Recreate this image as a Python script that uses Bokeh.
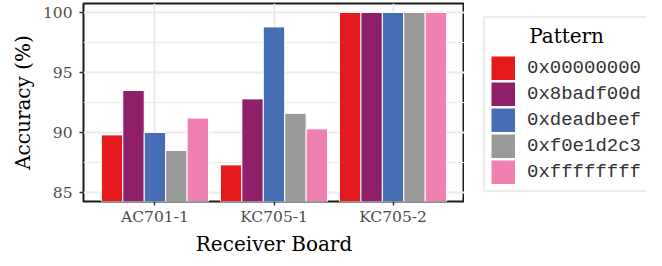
from bokeh.plotting import figure
from bokeh.layouts import row
from bokeh.models import (Legend, LegendItem, FixedTicker, Range1d, ColumnDataSource)
from bokeh.embed import file_html
from bokeh.resources import INLINE

boards = ["AC701-1", "KC705-1", "KC705-2"]
patterns = ["0x00000000", "0x8badf00d", "0xdeadbeef", "0xf0e1d2c3", "0xffffffff"]
acc_00000000 = [89.8, 87.3, 100.0]
acc_8badf00d = [93.5, 92.8, 100.0]
acc_deadbeef = [90.0, 98.8, 100.0]
acc_f0e1d2c3 = [88.5, 91.6, 100.0]
acc_ffffffff = [91.2, 90.3, 100.0]
series = [acc_00000000, acc_8badf00d, acc_deadbeef, acc_f0e1d2c3, acc_ffffffff]
colors = ["#E41A1C", "#8E1F68", "#466EB4", "#999999", "#F07FB4"]
y_ticks = [85, 90, 95, 100]

SERIF = "DejaVu Serif"
FH = 198      # frame height
TOP = 3
BOT = 49

p = figure(frame_width=381, frame_height=FH, output_backend="svg", toolbar_location=None,
           x_range=Range1d(0.4, len(boards) + 0.6), y_range=Range1d(84.25, 100.75),
           min_border_left=83, min_border_right=0, min_border_top=TOP, min_border_bottom=BOT)
p.background_fill_color = "white"
p.border_fill_color = "white"
p.outline_line_color = "#1a1a1a"
p.outline_line_width = 2

n = len(patterns)
bw = 0.9 / n
sources = []
for j, (vals, col) in enumerate(zip(series, colors)):
    xs = [i + 1 + (j - (n - 1) / 2) * bw for i in range(len(boards))]
    src = ColumnDataSource(dict(x=xs, top=vals))
    sources.append(src)
    p.vbar(x="x", top="top", bottom=0, width=bw, source=src,
           fill_color=col, line_color="white", line_width=1)

# axes
p.xaxis.ticker = FixedTicker(ticks=list(range(1, len(boards) + 1)))
p.xaxis.major_label_overrides = {i + 1: b for i, b in enumerate(boards)}
minor = [(a + b) / 2 for a, b in zip(y_ticks[:-1], y_ticks[1:])]
p.yaxis.ticker = FixedTicker(ticks=y_ticks, minor_ticks=minor)

for ax in (p.xaxis[0], p.yaxis[0]):
    ax.axis_line_color = None
    ax.major_tick_line_color = "#333333"
    ax.major_tick_line_width = 1.5
    ax.major_tick_out = 4
    ax.major_tick_in = 0
    ax.minor_tick_out = 0
    ax.minor_tick_in = 0
    ax.major_label_text_font = SERIF
    ax.major_label_text_font_size = "15.5px"
    ax.major_label_text_color = "#4d4d4d"
    ax.axis_label_text_font = SERIF
    ax.axis_label_text_font_size = "20px"
    ax.axis_label_text_font_style = "normal"
    ax.axis_label_text_color = "black"

p.xaxis.axis_label = "Receiver Board"
p.yaxis.axis_label = "Accuracy (%)"
p.xaxis.major_label_standoff = 2
p.xaxis.axis_label_standoff = 3
p.yaxis.major_label_standoff = 7
p.yaxis.axis_label_standoff = 5

p.xgrid.grid_line_color = "#ebebeb"
p.xgrid.grid_line_width = 2
p.ygrid.grid_line_color = "#ebebeb"
p.ygrid.grid_line_width = 2
p.ygrid.minor_grid_line_color = "#ebebeb"
p.ygrid.minor_grid_line_width = 1

# legend panel (separate figure to the right of the chart); its ranges keep the
# key renderers themselves out of view, only their legend swatches show
lf = figure(frame_width=182, frame_height=FH, output_backend="svg", toolbar_location=None,
            x_axis_type=None, y_axis_type=None,
            x_range=Range1d(-20, -19), y_range=Range1d(-20, -19),
            min_border_left=0, min_border_right=0, min_border_top=TOP, min_border_bottom=BOT)
lf.outline_line_color = None
lf.grid.visible = False
lf.background_fill_color = "white"
lf.border_fill_color = "white"
leg_renderers = []
for src, col in zip(sources, colors):
    r = lf.line(x="x", y="top", source=src, line_color=col, line_width=24, line_cap="butt")
    leg_renderers.append(r)

legend = Legend(items=[LegendItem(label=pat, renderers=[r]) for pat, r in zip(patterns, leg_renderers)],
                title="\u00a0" * 6 + "Pattern", location=(19, 9), margin=0, padding=6, spacing=2,
                glyph_width=24, glyph_height=24, label_standoff=12,
                label_text_font="Liberation Mono", label_text_font_size="19px",
                label_text_color="#333333",
                title_text_font=SERIF, title_text_font_size="20px", title_text_font_style="normal",
                title_text_color="black", title_standoff=8,
                border_line_color="#d9d9d9", border_line_width=2,
                background_fill_color="white")
lf.add_layout(legend, "center")

layout = row(p, lf)
open("out.html", "w").write(file_html(layout, INLINE))
